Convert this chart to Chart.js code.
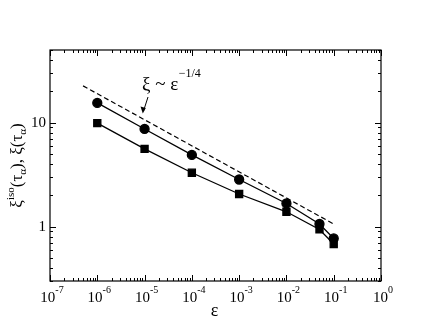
<!DOCTYPE html>
<html>
<head>
<meta charset="utf-8">
<script src="https://cdn.jsdelivr.net/npm/chart.js@4/dist/chart.umd.min.js"></script>
<style>
  html, body { margin: 0; padding: 0; background: #fff; }
  #wrap { width: 429px; height: 332px; }
</style>
</head>
<body>
<div id="wrap"><canvas id="myChart" width="429" height="332"></canvas></div>
<script>
// data
const eps = [1e-6, 1e-5, 1e-4, 1e-3, 1e-2, 0.05, 0.1];
const xiIso = [15.5, 8.7, 4.9, 2.84, 1.67, 1.06, 0.77];
const xiTau = [9.9, 5.6, 3.3, 2.06, 1.39, 0.94, 0.68];
const powerLawX = [5e-7, 0.1];
const powerLawY = [22.6, 1.06];
const xTickExps = [-7, -6, -5, -4, -3, -2, -1, 0];
const yTickLabels = [1, 10];

const FONT = "'Liberation Serif', 'DejaVu Serif', serif";

function pts(xs, ys) {
  return xs.map((x, i) => ({ x: x, y: ys[i] }));
}

// draw frame, inward ticks on all four sides and the labels
const framePlugin = {
  id: "frame",
  afterDraw(chart) {
    const ctx = chart.ctx;
    const a = chart.chartArea;
    const xs = chart.scales.x;
    const ys = chart.scales.y;
    ctx.save();
    ctx.strokeStyle = "#000";
    ctx.lineWidth = 1.2;
    ctx.strokeRect(a.left, a.top, a.right - a.left, a.bottom - a.top);

    ctx.lineWidth = 1;
    ctx.beginPath();
    // x ticks
    for (let e = -7; e <= 0; e++) {
      for (let m = 1; m <= 9; m++) {
        const v = m * Math.pow(10, e);
        if (v > 1) break;
        const px = Math.round(xs.getPixelForValue(v)) + 0.5;
        const len = m === 1 ? 6 : 3;
        ctx.moveTo(px, a.bottom); ctx.lineTo(px, a.bottom - len);
        ctx.moveTo(px, a.top); ctx.lineTo(px, a.top + len);
      }
    }
    // y ticks
    for (let e = -1; e <= 1; e++) {
      for (let m = 1; m <= 9; m++) {
        const v = m * Math.pow(10, e);
        if (v < ys.min || v > ys.max) continue;
        const py = Math.round(ys.getPixelForValue(v)) + 0.5;
        const len = m === 1 ? 6 : 3;
        ctx.moveTo(a.left, py); ctx.lineTo(a.left + len, py);
        ctx.moveTo(a.right, py); ctx.lineTo(a.right - len, py);
      }
    }
    ctx.stroke();

    ctx.fillStyle = "#000";
    // x tick labels 10^n
    xTickExps.forEach((e) => {
      const px = xs.getPixelForValue(Math.pow(10, e));
      ctx.font = "15px " + FONT;
      ctx.textBaseline = "alphabetic";
      const w = ctx.measureText("10").width;
      ctx.font = "10px " + FONT;
      const sup = e < 0 ? "-" + (-e) : String(e);
      const sw = ctx.measureText(sup).width;
      const x0 = px - (w + sw) / 2 + 2;
      ctx.font = "15px " + FONT;
      ctx.textAlign = "left";
      ctx.fillText("10", x0, a.bottom + 21);
      ctx.font = "10px " + FONT;
      ctx.fillText(sup, x0 + w, a.bottom + 12);
    });

    // y tick labels
    ctx.font = "15px " + FONT;
    ctx.textAlign = "right";
    ctx.textBaseline = "middle";
    yTickLabels.forEach((v) => {
      ctx.fillText(String(v), a.left - 4, ys.getPixelForValue(v));
    });

    // x axis title
    ctx.font = "18px " + FONT;
    ctx.textAlign = "center";
    ctx.textBaseline = "alphabetic";
    ctx.fillText("\u03b5", (a.left + a.right) / 2 - 1, a.bottom + 35);

    // y axis title, rotated
    ctx.save();
    ctx.translate(22, (a.top + a.bottom) / 2);
    ctx.rotate(-Math.PI / 2);
    const parts = [
      ["\u03be", 17, 0],
      ["iso", 11, -8],
      ["(\u03c4", 17, 0],
      ["\u03b1", 11, 4],
      "), \u03be(\u03c4",
      ["\u03b1", 11, 4],
      [")", 17, 0]
    ].map((p) => (typeof p === "string" ? [p, 17, 0] : p));
    let total = 0;
    parts.forEach((p) => { ctx.font = p[1] + "px " + FONT; total += ctx.measureText(p[0]).width; });
    let cx = -total / 2;
    ctx.textAlign = "left";
    parts.forEach((p) => {
      ctx.font = p[1] + "px " + FONT;
      ctx.fillText(p[0], cx, p[2]);
      cx += ctx.measureText(p[0]).width;
    });
    ctx.restore();

    // annotation  xi ~ eps^-1/4
    ctx.textAlign = "left";
    ctx.font = "19px " + FONT;
    const label = "\u03be ~ \u03b5";
    ctx.fillText(label, 142, 90);
    const lw = ctx.measureText(label).width;
    ctx.font = "12px " + FONT;
    ctx.fillText("\u22121/4", 142 + lw + 0.5, 77);

    // arrow
    ctx.beginPath();
    ctx.lineWidth = 1;
    ctx.moveTo(148, 97);
    ctx.lineTo(143.5, 111);
    ctx.stroke();
    ctx.beginPath();
    ctx.moveTo(142.8, 113.5);
    ctx.lineTo(140.5, 106.5);
    ctx.lineTo(145.8, 108);
    ctx.closePath();
    ctx.fill();

    ctx.restore();
  }
};

const ctx = document.getElementById("myChart").getContext("2d");
window.chart = new Chart(ctx, {
  type: "scatter",
  data: {
    datasets: [
      {
        label: "xi iso",
        data: pts(eps, xiIso),
        showLine: true,
        borderColor: "#000",
        backgroundColor: "#000",
        borderWidth: 1.3,
        pointStyle: "circle",
        pointRadius: 4.5,
      },
      {
        label: "xi",
        data: pts(eps, xiTau),
        showLine: true,
        borderColor: "#000",
        backgroundColor: "#000",
        borderWidth: 1.3,
        pointStyle: "rect",
        pointRadius: 5,
      },
      {
        label: "power law",
        data: pts(powerLawX, powerLawY),
        showLine: true,
        borderColor: "#000",
        borderWidth: 1.2,
        borderDash: [5, 3],
        pointRadius: 0,
      },
    ],
  },
  options: {
    responsive: false,
    animation: false,
    layout: { padding: { left: 50, top: 50, right: 48, bottom: 51 } },
    plugins: { legend: { display: false }, tooltip: { enabled: false } },
    scales: {
      x: { type: "logarithmic", min: 1e-7, max: 1, display: false },
      y: { type: "logarithmic", min: 0.3, max: 50, display: false },
    },
  },
  plugins: [framePlugin],
});
</script>
</body>
</html>
